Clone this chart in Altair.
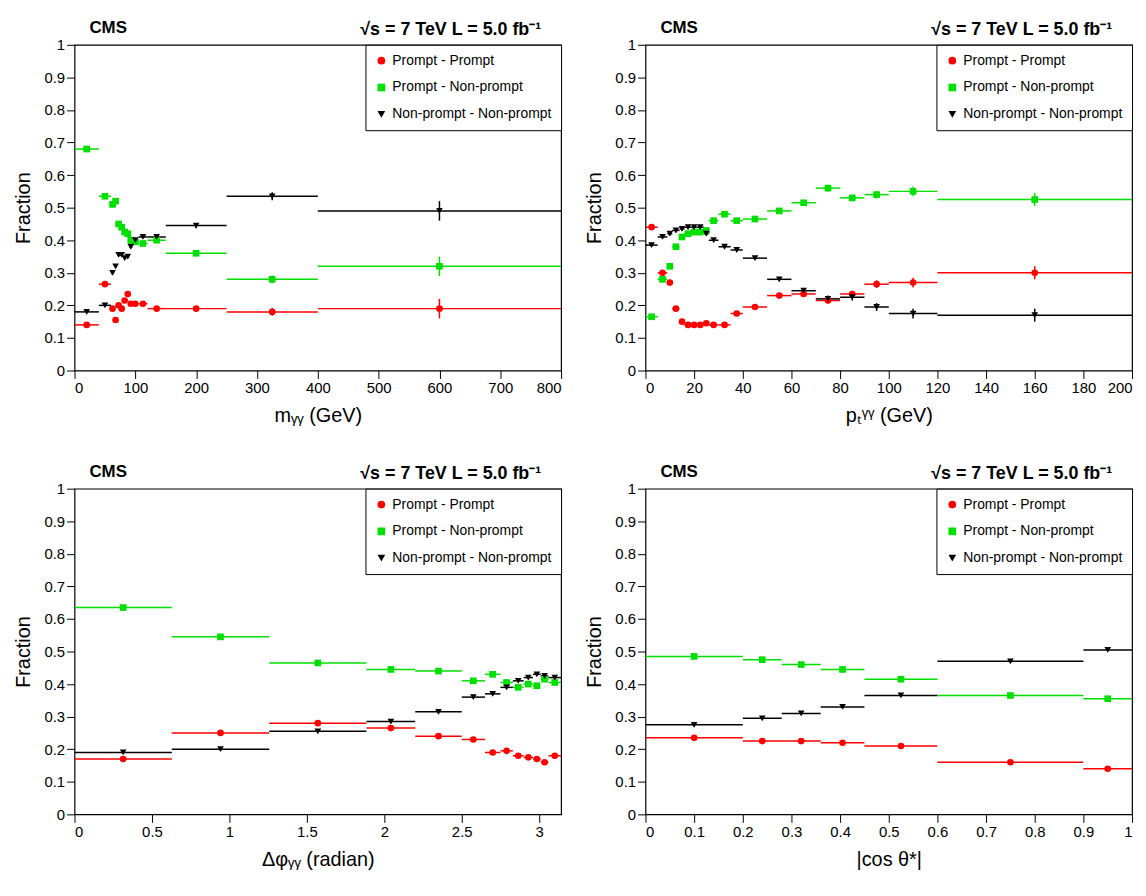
import altair as alt
import pandas as pd

SERIES = ["Prompt - Prompt", "Prompt - Non-prompt", "Non-prompt - Non-prompt"]
COLORS = ["#ff0000", "#00e000", "#000000"]
SHAPES = ["circle", "square", "triangle-down"]

# panel 1: m_gg
m_lo = [0, 40, 60, 65, 70, 75, 80, 85, 90, 95, 105, 120, 150, 250, 400]
m_hi = [40, 60, 65, 70, 75, 80, 85, 90, 95, 105, 120, 150, 250, 400, 800]
m_pp = [0.14, 0.265, 0.19, 0.155, 0.20, 0.19, 0.215, 0.235, 0.205, 0.205, 0.205, 0.19, 0.19, 0.18, 0.19]
m_pn = [0.68, 0.535, 0.51, 0.52, 0.45, 0.44, 0.425, 0.42, 0.40, 0.395, 0.39, 0.40, 0.36, 0.28, 0.32]
m_nn = [0.18, 0.20, 0.30, 0.32, 0.355, 0.355, 0.345, 0.35, 0.38, 0.40, 0.41, 0.41, 0.445, 0.535, 0.49]
m_err = [0.005] * 12 + [0.008, 0.012, 0.03]

# panel 2: pT
p_lo = [0, 5, 9, 11, 14, 16, 19, 21, 24, 26, 30, 35, 40, 50, 60, 70, 80, 90, 100, 120]
p_hi = [5, 9, 11, 14, 16, 19, 21, 24, 26, 30, 35, 40, 50, 60, 70, 80, 90, 100, 120, 200]
p_pp = [0.44, 0.30, 0.27, 0.19, 0.15, 0.14, 0.14, 0.14, 0.145, 0.14, 0.14, 0.175, 0.195, 0.23, 0.235, 0.215, 0.235, 0.265, 0.27, 0.30]
p_pn = [0.165, 0.28, 0.32, 0.38, 0.41, 0.42, 0.425, 0.425, 0.43, 0.46, 0.48, 0.46, 0.465, 0.49, 0.515, 0.56, 0.53, 0.54, 0.55, 0.525]
p_nn = [0.385, 0.41, 0.42, 0.43, 0.435, 0.44, 0.44, 0.44, 0.42, 0.40, 0.38, 0.37, 0.345, 0.28, 0.245, 0.22, 0.225, 0.195, 0.175, 0.17]
p_err = [0.006] * 15 + [0.01, 0.01, 0.012, 0.015, 0.02]

# panel 3: delta phi
d_lo = [0, 0.628, 1.257, 1.885, 2.2, 2.5, 2.65, 2.75, 2.83, 2.9, 2.96, 3.01, 3.06]
d_hi = [0.628, 1.257, 1.885, 2.2, 2.5, 2.65, 2.75, 2.83, 2.9, 2.96, 3.01, 3.06, 3.1416]
d_pp = [0.17, 0.25, 0.28, 0.265, 0.24, 0.23, 0.19, 0.195, 0.18, 0.175, 0.17, 0.16, 0.18]
d_pn = [0.635, 0.545, 0.465, 0.445, 0.44, 0.41, 0.43, 0.405, 0.39, 0.40, 0.395, 0.415, 0.405]
d_nn = [0.19, 0.20, 0.255, 0.285, 0.315, 0.36, 0.37, 0.39, 0.41, 0.42, 0.43, 0.425, 0.42]
d_err = [0.005] * 13

# panel 4: |cos theta*|
c_lo = [0, 0.2, 0.28, 0.36, 0.45, 0.6, 0.9]
c_hi = [0.2, 0.28, 0.36, 0.45, 0.6, 0.9, 1.0]
c_pp = [0.235, 0.225, 0.225, 0.22, 0.21, 0.16, 0.14]
c_pn = [0.485, 0.475, 0.46, 0.445, 0.415, 0.365, 0.355]
c_nn = [0.275, 0.295, 0.31, 0.33, 0.365, 0.47, 0.505]
c_err = [0.005] * 7

y_ticks = [0, 0.1, 0.2, 0.3, 0.4, 0.5, 0.6, 0.7, 0.8, 0.9, 1]

FONT = "Liberation Sans"


def panel(lo, hi, pp, pn, nn, err, xmax, xticks, xtitle):
    rows = []
    for s, vals in zip(SERIES, [pp, pn, nn]):
        for a, b, v, e in zip(lo, hi, vals, err):
            rows.append({"s": s, "lo": a, "hi": b, "x": (a + b) / 2, "y": v,
                         "ylo": v - e, "yhi": v + e})
    df = pd.DataFrame(rows)
    xs = alt.Scale(domain=[0, xmax], nice=False, zero=False)
    ys = alt.Scale(domain=[0, 1], nice=False)
    xax = alt.Axis(title=xtitle, format="~r", labelOverlap=False, values=xticks)
    yax = alt.Axis(title="Fraction", format="~r", labelOverlap=False, values=y_ticks)
    col = alt.Color("s:N", scale=alt.Scale(domain=SERIES, range=COLORS),
                    legend=alt.Legend(title=None, orient="top-right", offset=0,
                                      fillColor="white", strokeColor="black",
                                      padding=9, labelFont=FONT, labelFontSize=14,
                                      symbolSize=60, rowPadding=13, symbolStrokeWidth=0,
                                      labelLimit=300))
    shp = alt.Shape("s:N", scale=alt.Scale(domain=SERIES, range=SHAPES), legend=None)
    base = alt.Chart(df)
    hbar = base.mark_rule(strokeWidth=1.5).encode(
        x=alt.X("lo:Q", scale=xs, axis=xax), x2="hi:Q",
        y=alt.Y("y:Q", scale=ys, axis=yax), color=col)
    vbar = base.mark_rule(strokeWidth=1.5).encode(
        x=alt.X("x:Q", scale=xs, axis=xax), y=alt.Y("ylo:Q", scale=ys, axis=yax), y2="yhi:Q", color=col)
    pts = base.mark_point(filled=True, size=45, opacity=1).encode(
        x=alt.X("x:Q", scale=xs, axis=xax), y=alt.Y("y:Q", scale=ys, axis=yax), color=col, shape=shp)
    hdr = pd.DataFrame({"t": ["CMS", "√s = 7 TeV   L = 5.0 fb⁻¹"]})
    cms = alt.Chart(hdr.iloc[[0]]).mark_text(align="left", font=FONT, fontWeight="bold", fontSize=17).encode(
        text="t:N", x=alt.value(15), y=alt.value(-17))
    lum = alt.Chart(hdr.iloc[[1]]).mark_text(align="right", font=FONT, fontWeight="bold", fontSize=18).encode(
        text="t:N", x=alt.value(470), y=alt.value(-15))
    return (hbar + vbar + pts + cms + lum).properties(width=490, height=328).resolve_scale(
        color="shared", shape="shared")


p1 = panel(m_lo, m_hi, m_pp, m_pn, m_nn, m_err, 800, [0, 100, 200, 300, 400, 500, 600, 700, 800], "mᵧᵧ (GeV)")
p2 = panel(p_lo, p_hi, p_pp, p_pn, p_nn, p_err, 200, [0, 20, 40, 60, 80, 100, 120, 140, 160, 180, 200], "pₜᵞᵞ (GeV)")
p3 = panel(d_lo, d_hi, d_pp, d_pn, d_nn, d_err, 3.1416, [0, 0.5, 1, 1.5, 2, 2.5, 3], "Δφᵧᵧ (radian)")
p4 = panel(c_lo, c_hi, c_pp, c_pn, c_nn, c_err, 1.0, y_ticks, "|cos θ*|")

chart = alt.vconcat(
    alt.hconcat(p1, p2, spacing=21).resolve_scale(color="independent", shape="independent"),
    alt.hconcat(p3, p4, spacing=21).resolve_scale(color="independent", shape="independent"),
    spacing=36,
).resolve_scale(color="independent", shape="independent").properties(
    padding={"left": 5, "top": 7, "right": 4, "bottom": 4}
).configure_view(
    stroke="black", strokeWidth=1.2
).configure_axis(
    labelFont=FONT, titleFont=FONT, labelFontSize=15, titleFontSize=20,
    titleFontWeight="normal", grid=False, domain=False, tickColor="black",
    labelColor="black", titleColor="black", tickSize=8, titlePadding=10
)

chart.save("out.html", embed_options={"renderer": "svg", "actions": False})
